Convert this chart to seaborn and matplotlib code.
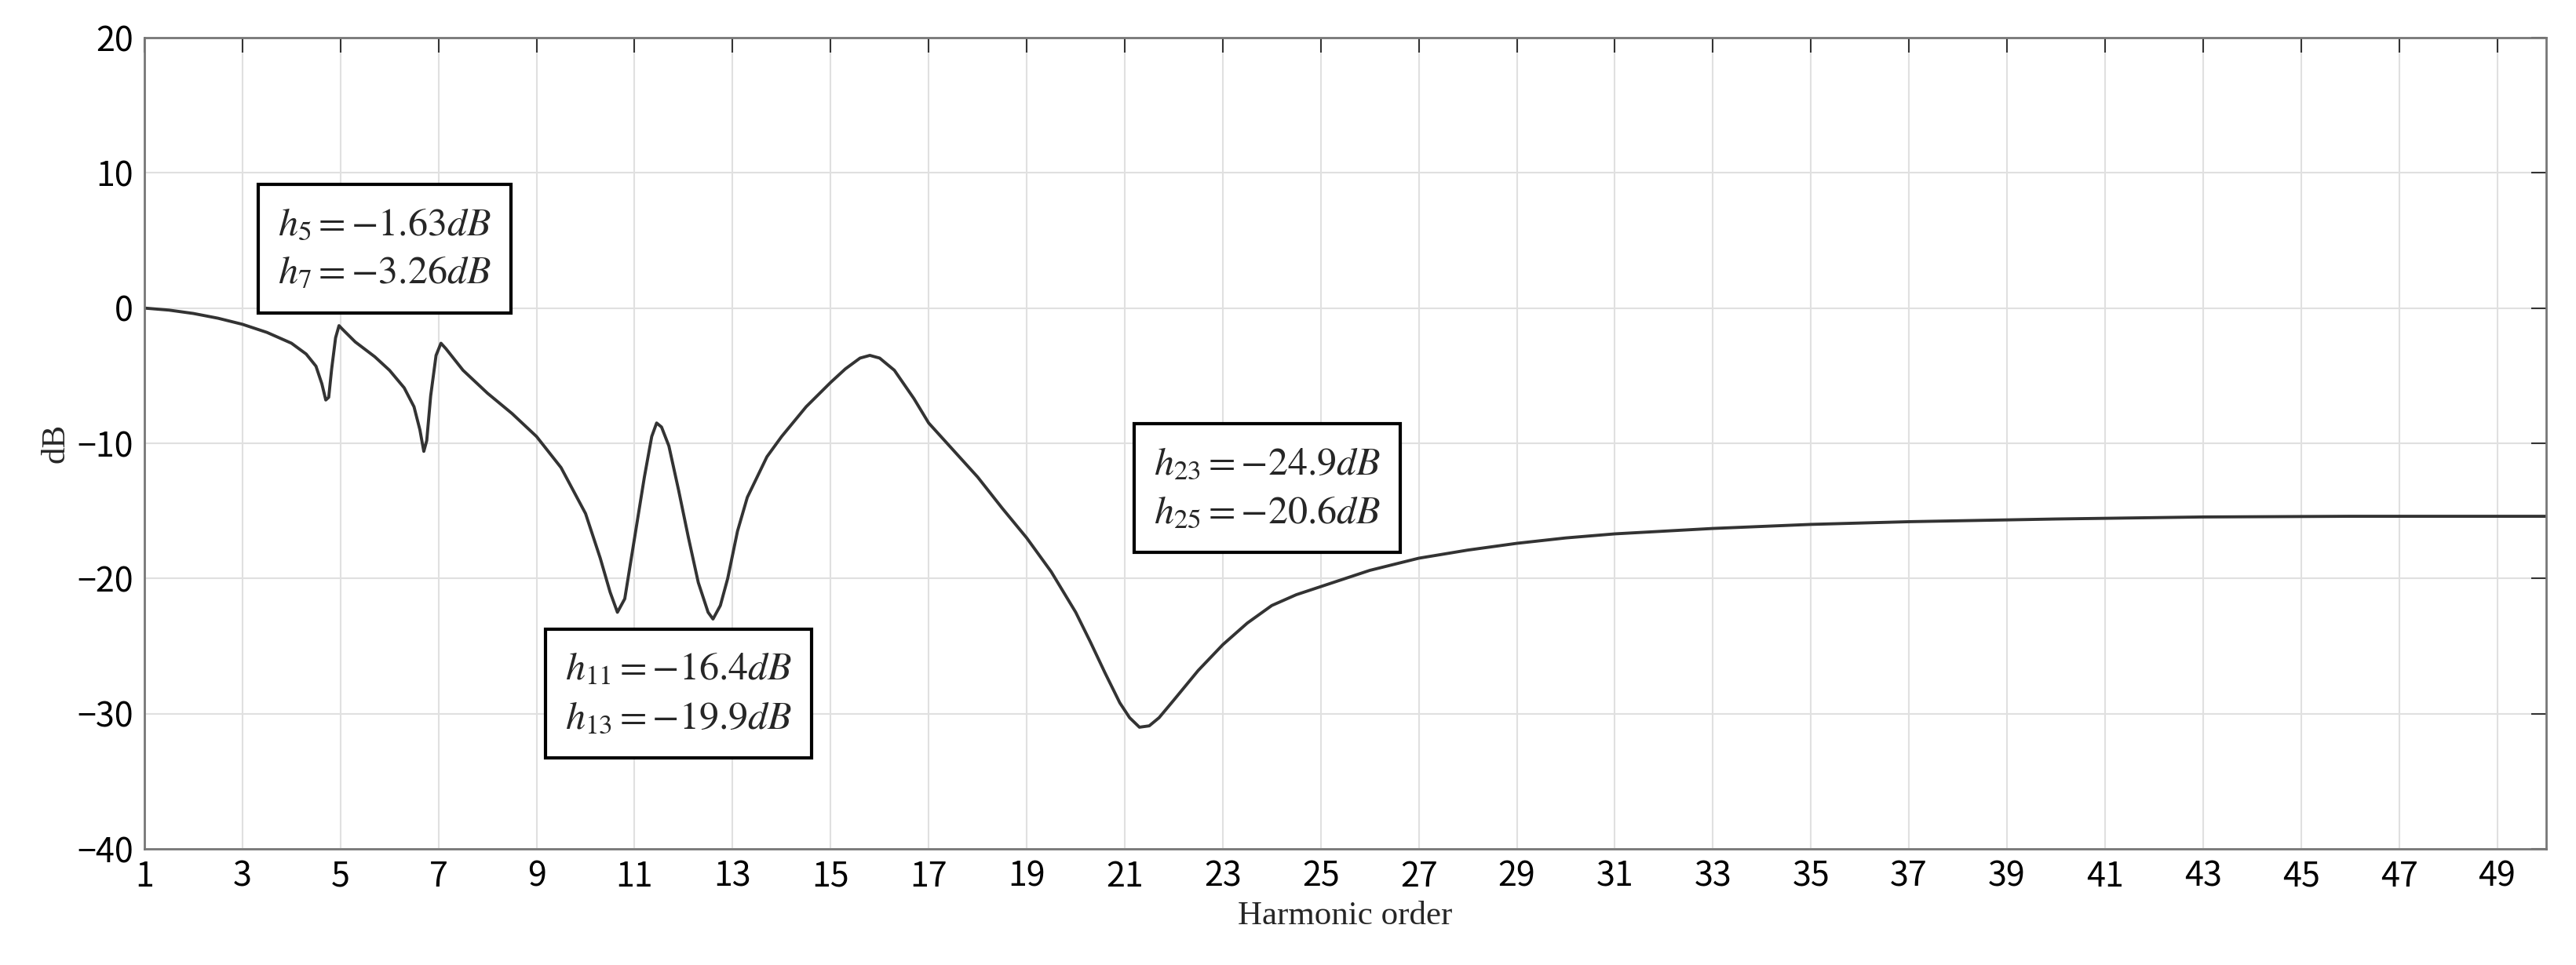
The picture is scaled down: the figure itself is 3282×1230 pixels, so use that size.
import matplotlib
matplotlib.use('Agg')
import matplotlib.pyplot as plt
import seaborn as sns
import pandas as pd

# Valores (orden armónico, dB)
harmonic = [1, 1.5, 2, 2.5, 3, 3.5, 4, 4.3, 4.5, 4.62, 4.7, 4.76, 4.82, 4.9, 4.97, 5.05, 5.3,
            5.7, 6, 6.3, 6.5, 6.62, 6.7, 6.76, 6.84, 6.95, 7.05, 7.15, 7.5, 8, 8.5, 9, 9.5,
            10, 10.3, 10.5, 10.65, 10.8, 11.0, 11.2, 11.35, 11.45, 11.55, 11.7, 11.9, 12.1,
            12.3, 12.5, 12.6, 12.75, 12.9, 13.1, 13.3, 13.7, 14, 14.5, 15, 15.3, 15.6, 15.8,
            16.0, 16.3, 16.7, 17, 17.5, 18, 18.5, 19, 19.5, 20, 20.3, 20.6, 20.9, 21.1, 21.3,
            21.5, 21.7, 22, 22.5, 23, 23.5, 24, 24.5, 25, 26, 27, 28, 29, 30, 31, 33, 35,
            37, 40, 43, 46, 50]
gain_db = [0, -0.15, -0.4, -0.75, -1.2, -1.8, -2.6, -3.4, -4.3, -5.6, -6.8, -6.6, -4.5, -2.2,
           -1.3, -1.6, -2.5, -3.6, -4.6, -5.9, -7.3, -9.0, -10.6, -9.8, -6.5, -3.5, -2.6,
           -3.0, -4.6, -6.3, -7.8, -9.5, -11.8, -15.2, -18.5, -21.0, -22.5, -21.5, -17.0,
           -12.5, -9.5, -8.5, -8.8, -10.2, -13.5, -17.0, -20.3, -22.5, -23.0, -22.0, -20.0,
           -16.5, -14.0, -11.0, -9.5, -7.3, -5.5, -4.5, -3.7, -3.5, -3.7, -4.6, -6.7, -8.5,
           -10.5, -12.5, -14.8, -17.0, -19.5, -22.5, -24.7, -27.0, -29.2, -30.3, -31.0,
           -30.9, -30.3, -29.0, -26.8, -24.9, -23.3, -22.0, -21.2, -20.6, -19.4, -18.5,
           -17.9, -17.4, -17.0, -16.7, -16.3, -16.0, -15.8, -15.6, -15.45, -15.4, -15.4]
x_ticks = list(range(1, 50, 2))
y_ticks = [-40, -30, -20, -10, 0, 10, 20]

notes = [r'$h_5=-1.63dB$' + '\n' + r'$h_7=-3.26dB$',
         r'$h_{11}=-16.4dB$' + '\n' + r'$h_{13}=-19.9dB$',
         r'$h_{23}=-24.9dB$' + '\n' + r'$h_{25}=-20.6dB$']
note_x = [5.9, 11.9, 23.9]
note_y = [4.4, -28.5, -13.3]

df = pd.DataFrame({'harmonic': harmonic, 'dB': gain_db})

sns.set_style('white')
plt.rcParams['font.family'] = ['Noto Sans CJK KR', 'DejaVu Sans']
plt.rcParams['mathtext.fontset'] = 'stix'

fig = plt.figure(figsize=(32.82, 12.30), dpi=100)
ax = fig.add_axes([184 / 3282, 1 - 1082 / 1230, (3244 - 184) / 3282, (1082 - 48) / 1230])

sns.lineplot(data=df, x='harmonic', y='dB', color='#333333', linewidth=2.8, ax=ax)

ax.set_xlim(1, 50)
ax.set_ylim(-40, 20)
ax.set_xticks(x_ticks)
ax.set_yticks(y_ticks)
ax.set_yticklabels(['\u221240', '\u221230', '\u221220', '\u221210', '0', '10', '20'])
ax.grid(True, color='#e0e0e0', linewidth=1.5)
ax.tick_params(direction='in', length=14, width=1.5, labelsize=31, colors='#333333',
               top=True, right=True, labelcolor='black', pad=10)
for s in ax.spines.values():
    s.set_color('#777777')
    s.set_linewidth(2)

ax.set_xlabel('Harmonic order', fontsize=31, family='Liberation Serif', labelpad=6)
ax.set_ylabel('dB', fontsize=31, family='Liberation Serif', labelpad=6)

for t, x, y in zip(notes, note_x, note_y):
    ax.text(x, y, t, fontsize=36, ha='center', va='center', linespacing=1.25,
            bbox=dict(boxstyle='square,pad=0.5', fc='white', ec='black', lw=3))

fig.savefig('out.png', dpi=100)
